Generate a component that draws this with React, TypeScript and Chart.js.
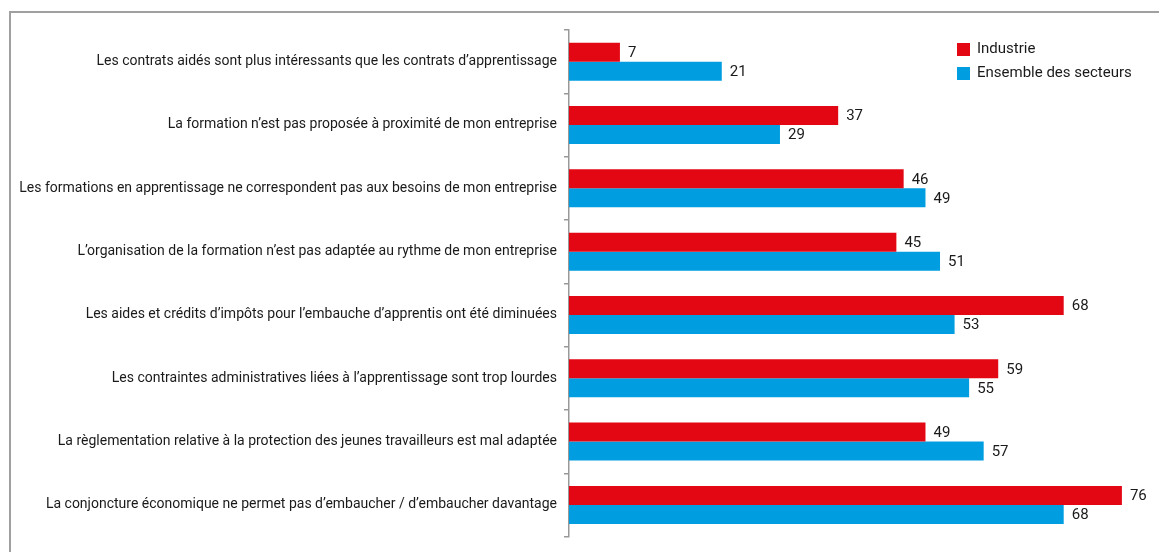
import React, { useEffect, useRef } from "react";
import { Chart, registerables } from "chart.js";

Chart.register(...registerables);

const categories = [
  "Les contrats aidés sont plus intéressants que les contrats d’apprentissage",
  "La formation n’est pas proposée à proximité de mon entreprise",
  "Les formations en apprentissage ne correspondent pas aux besoins de mon entreprise",
  "L’organisation de la formation n’est pas adaptée au rythme de mon entreprise",
  "Les aides et crédits d’impôts pour l’embauche d’apprentis ont été diminuées",
  "Les contraintes administratives liées à l’apprentissage sont trop lourdes",
  "La règlementation relative à la protection des jeunes travailleurs est mal adaptée",
  "La conjoncture économique ne permet pas d’embaucher / d’embaucher davantage",
];

const industrie = [7, 37, 46, 45, 68, 59, 49, 76];
const ensemble = [21, 29, 49, 51, 53, 55, 57, 68];

const seriesNames = ["Industrie", "Ensemble des secteurs"];
const seriesColors = ["#e30613", "#009ee0"];

const FONT = "Roboto, 'Noto Sans', sans-serif";

const framePlugin = {
  id: "frame",
  beforeDraw(chart: any) {
    const ctx = chart.ctx;
    ctx.save();
    ctx.strokeStyle = "#a0a0a0";
    ctx.lineWidth = 2;
    ctx.strokeRect(10, 12, chart.width + 40, chart.height + 40);
    ctx.restore();
  },
};

const labelsPlugin = {
  id: "valueLabels",
  afterDatasetsDraw(chart: any) {
    const ctx = chart.ctx;
    ctx.save();
    ctx.font = `15px ${FONT}`;
    ctx.fillStyle = "#1a1a1a";
    ctx.textAlign = "left";
    ctx.textBaseline = "middle";
    chart.data.datasets.forEach((ds: any, di: number) => {
      const meta = chart.getDatasetMeta(di);
      meta.data.forEach((el: any, i: number) => {
        ctx.fillText(String(ds.data[i]), el.x + 8, el.y + 1);
      });
    });
    ctx.restore();
  },
};

const legendPlugin = {
  id: "customLegend",
  afterDraw(chart: any) {
    const ctx = chart.ctx;
    const area = chart.chartArea;
    const x0 = area.right - 194;
    const y0 = area.top + 13;
    ctx.save();
    ctx.font = `15px ${FONT}`;
    ctx.textAlign = "left";
    ctx.textBaseline = "middle";
    seriesNames.forEach((name, i) => {
      const y = y0 + i * 24;
      ctx.fillStyle = seriesColors[i];
      ctx.fillRect(x0, y, 13, 13);
      ctx.fillStyle = "#1a1a1a";
      ctx.fillText(name, x0 + 20, y + 6.5);
    });
    ctx.restore();
  },
};

export default function App() {
  const ref = useRef<HTMLCanvasElement | null>(null);

  useEffect(() => {
    if (!ref.current) return;
    const chart = new Chart(ref.current, {
      type: "bar",
      data: {
        labels: categories,
        datasets: [
          {
            label: seriesNames[0],
            data: industrie,
            backgroundColor: seriesColors[0],
            categoryPercentage: 0.6,
            barPercentage: 1,
          },
          {
            label: seriesNames[1],
            data: ensemble,
            backgroundColor: seriesColors[1],
            categoryPercentage: 0.6,
            barPercentage: 1,
          },
        ],
      },
      options: {
        indexAxis: "y",
        animation: false,
        responsive: false,
        maintainAspectRatio: false,
        layout: { padding: { top: 30, bottom: 14, right: 8, left: 10 } },
        plugins: {
          legend: { display: false },
          tooltip: { enabled: false },
        },
        scales: {
          x: {
            display: false,
            min: 0,
            max: 80,
          },
          y: {
            afterFit(scale: any) {
              scale.width = 559;
            },
            grid: {
              offset: true,
              drawOnChartArea: false,
              drawTicks: true,
              tickLength: 5,
              color: "#999",
              lineWidth: 1.5,
            },
            border: { display: true, color: "#999", width: 1.5 },
            ticks: {
              padding: 7,
              color: "#1a1a1a",
              font: { family: FONT, size: 14 },
              autoSkip: false,
            },
          },
        },
      },
      plugins: [framePlugin, labelsPlugin, legendPlugin],
    });
    return () => chart.destroy();
  }, []);

  return (
    <div style={{ position: "fixed", left: 0, top: 0, width: 1159, height: 552, overflow: "hidden", background: "#fff" }}>
      <canvas ref={ref} width={1159} height={552} style={{ display: "block", width: 1159, height: 552 }} />
    </div>
  );
}
